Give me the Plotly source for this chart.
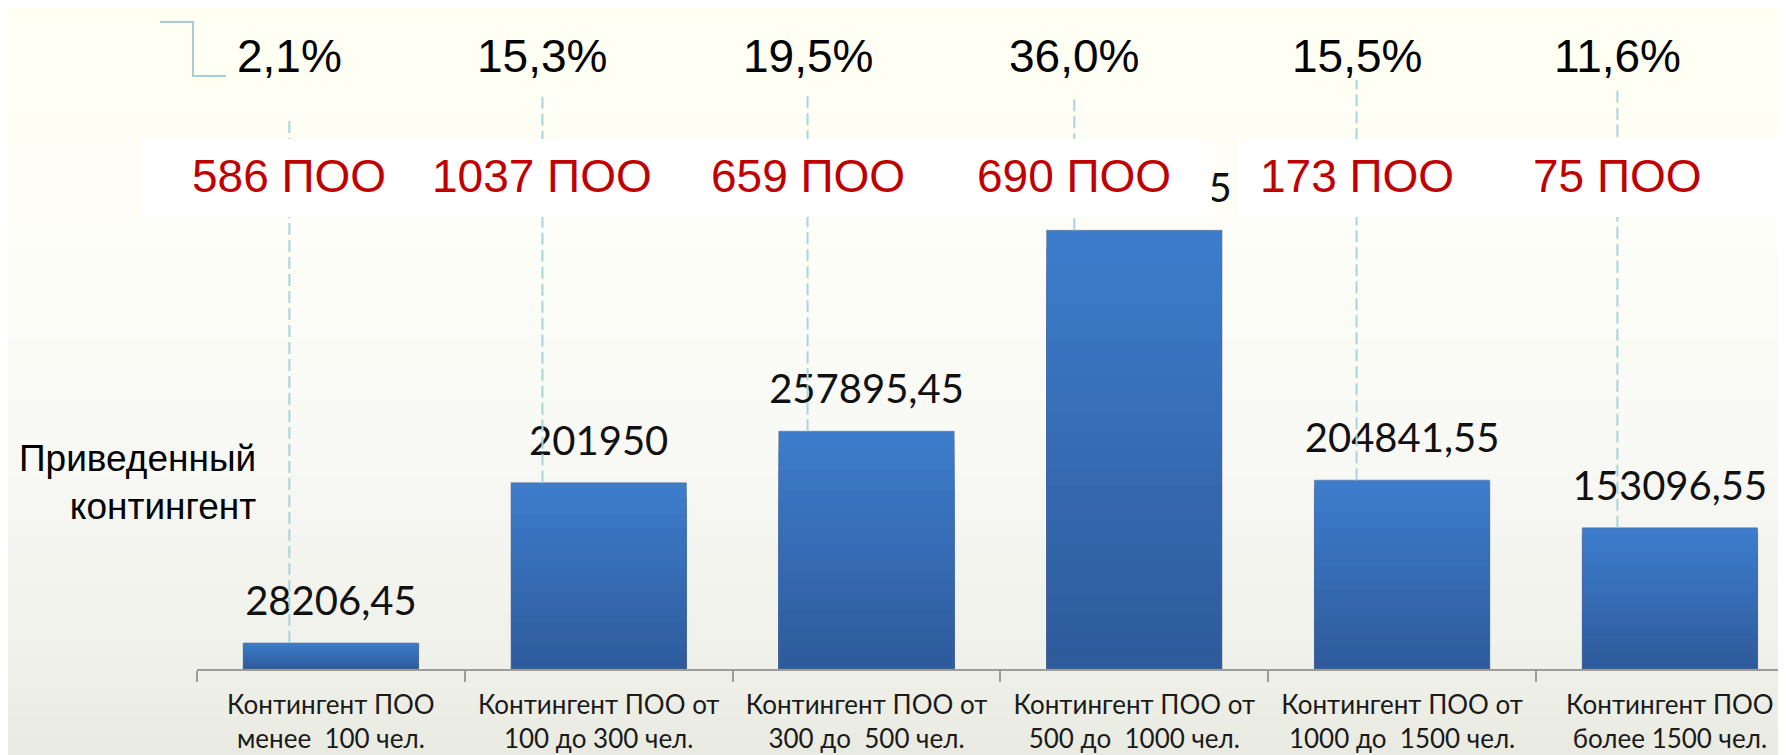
import plotly.graph_objects as go

# ---------------- data ----------------
categories = [
    "Контингент ПОО<br>менее  100 чел.",
    "Контингент ПОО от<br>100 до 300 чел.",
    "Контингент ПОО от<br>300 до  500 чел.",
    "Контингент ПОО от<br>500 до  1000 чел.",
    "Контингент ПОО от<br>1000 до  1500 чел.",
    "Контингент ПОО<br>более 1500 чел.",
]
values = [28206.45, 201950, 257895.45, 475869.45, 204841.55, 153096.55]
percent_labels = ["2,1%", "15,3%", "19,5%", "36,0%", "15,5%", "11,6%"]
poo_labels = ["586 ПОО", "1037 ПОО", "659 ПОО", "690 ПОО", "173 ПОО", "75 ПОО"]
y_title = "Приведенный<br>контингент"

# positions of the overlaid callouts, in category units
note_x = [-0.155, 0.79, 1.78, 2.776, 3.83, 4.804]
line_top_px = [108, 87, 87, 87, 72, 82]

# ---------------- layout geometry ----------------
W, H = 1786, 755
ML, MR, MT, MB = 189, 0, 0, 94
PW, PH = W - ML - MR, H - MT - MB
CAT_W = 267.8
YMAX = 717000
X_RANGE = [-0.5, -0.5 + PW / CAT_W]


def px(xp):
    return (xp - ML) / PW


def py(yp):
    return 1 - (yp - MT) / PH


def fmt(v):
    s = f"{v:.2f}".rstrip("0").rstrip(".")
    return s.replace(".", ",")


def lerp_rgb(c0, c1, f):
    return "rgb(%d,%d,%d)" % tuple(round(a + (b - a) * f) for a, b in zip(c0, c1))


value_text = [fmt(v) for v in values]

fig = go.Figure()

# bars with a vertical gradient: overlaid, progressively shorter and darker
BAR_TOP = (61, 124, 203)
BAR_BOT = (46, 91, 156)
NSEG = 24
for k in range(NSEG):
    frac = (NSEG - k) / NSEG
    fig.add_trace(go.Bar(
        x=categories, y=[v * frac for v in values],
        marker=dict(color=lerp_rgb(BAR_TOP, BAR_BOT, k / (NSEG - 1)), line=dict(width=0)),
        hoverinfo="skip", showlegend=False,
    ))
# thin outline of each bar
fig.add_trace(go.Bar(
    x=categories, y=values,
    marker=dict(color="rgba(0,0,0,0)", line=dict(color="rgba(95,110,135,0.55)", width=1)),
    hoverinfo="skip", showlegend=False,
))

fig.add_trace(go.Scatter(
    x=categories, y=values, mode="markers+text",
    text=value_text, textposition="top center",
    marker=dict(size=27, color="rgba(0,0,0,0)"),
    textfont=dict(family="Lato", size=40, color="#111111"),
    cliponaxis=False, hoverinfo="skip", showlegend=False,
))

shapes = []
# background gradient
stops = [(0.0, (255, 255, 242)), (0.3, (254, 254, 248)), (0.6, (248, 248, 245)),
         (0.85, (240, 241, 234)), (1.0, (232, 234, 224))]


def col_at(t):
    for (t0, c0), (t1, c1) in zip(stops[:-1], stops[1:]):
        if t0 <= t <= t1:
            return lerp_rgb(c0, c1, (t - t0) / (t1 - t0))
    return lerp_rgb(stops[-1][1], stops[-1][1], 0)


NB = 50
for i in range(NB):
    y0p, y1p = H * i / NB, H * (i + 1) / NB + 1
    shapes.append(dict(type="rect", xref="paper", yref="paper", layer="below",
                       x0=px(0), x1=px(W), y0=py(y1p), y1=py(y0p),
                       fillcolor=col_at((i + 0.5) / NB), line=dict(width=0)))

# dashed callout lines
for xi, v, tp in zip(note_x, values, line_top_px):
    shapes.append(dict(type="line", xref="x", yref="y", layer="above",
                       x0=xi, x1=xi, y0=v, y1=YMAX * py(tp),
                       line=dict(color="#A8D4DC", width=2, dash="12px,5px")))

# white boxes behind red labels
shapes.append(dict(type="rect", xref="paper", yref="paper", layer="above",
                   x0=px(132), x1=px(1204), y0=py(209), y1=py(131),
                   fillcolor="white", line=dict(width=0)))
shapes.append(dict(type="rect", xref="paper", yref="paper", layer="above",
                   x0=px(1230), x1=px(W), y0=py(209), y1=py(131),
                   fillcolor="white", line=dict(width=0)))

# bracket at top-left
shapes.append(dict(type="path", xref="paper", yref="paper", layer="above",
                   path=f"M {px(152)} {py(14)} L {px(185)} {py(14)} L {px(185)} {py(68)} L {px(218)} {py(68)}",
                   line=dict(color="#A8CDD4", width=2)))

annotations = []
for xi, t in zip(note_x, percent_labels):
    annotations.append(dict(x=xi, xref="x", y=py(48), yref="paper", text=t,
                            showarrow=False, xanchor="center", yanchor="middle",
                            font=dict(family="Liberation Sans, Arial", size=46, color="#000000")))
for xi, t in zip(note_x, poo_labels):
    annotations.append(dict(x=xi, xref="x", y=py(168), yref="paper", text=t,
                            showarrow=False, xanchor="center", yanchor="middle",
                            font=dict(family="Liberation Sans, Arial", size=46, color="#C00000")))
annotations.append(dict(x=px(250), xref="paper", y=py(474), yref="paper", text=y_title,
                        showarrow=False, xanchor="right", yanchor="middle", align="right",
                        font=dict(family="Liberation Sans, Arial", size=37, color="#000000")))

fig.update_layout(
    width=W, height=H,
    margin=dict(l=ML, r=MR, t=MT, b=MB, pad=0, autoexpand=False),
    paper_bgcolor="rgb(255,255,242)", plot_bgcolor="rgba(0,0,0,0)",
    showlegend=False, barmode="overlay", bargap=0.345,
    shapes=shapes, annotations=annotations,
    xaxis=dict(range=X_RANGE, showline=True, linecolor="#9C9C9C", linewidth=1.5,
               ticks="outside", ticklen=11, tickcolor="#9C9C9C", tickwidth=1.5,
               tickson="boundaries", showgrid=False, zeroline=False, automargin=False,
               tickfont=dict(family="Lato", size=26, color="#1A1A1A"),
               ticklabelstandoff=12),
    yaxis=dict(range=[0, YMAX], visible=False, showgrid=False, zeroline=False,
               automargin=False),
)

fig.write_html("out.html")
